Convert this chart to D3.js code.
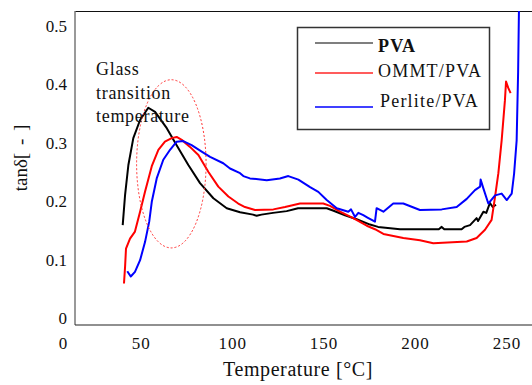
<!DOCTYPE html>
<html>
<head>
<meta charset="utf-8">
<script src="https://cdn.jsdelivr.net/npm/d3@7"></script>
<style>
  html, body { margin: 0; padding: 0; background: #fff; }
  svg text { font-family: "Liberation Serif", "DejaVu Serif", "Times New Roman", Times, serif; }
</style>
</head>
<body>
<svg id="chart" width="532" height="385"></svg>
<script>
// Loss tangent vs temperature for neat PVA and two filled composites
const pvaT = [40.1, 41.4, 43.2, 45.9, 49.6, 54.1, 57.8, 64.2, 69.6, 76.0, 82.4, 89.7, 97.0, 104.3, 111.4, 113.4, 116.0, 122.3, 129.8, 136.0, 151.7, 155.1, 161.7, 168.1, 175.4, 179.8, 191.8, 213.0, 214.6, 216.0, 225.5, 227.0, 230.1, 233.7, 234.5, 237.4, 239.0, 241.0, 242.5, 244.3];
const pvaV = [0.159, 0.211, 0.262, 0.308, 0.339, 0.360, 0.353, 0.325, 0.296, 0.262, 0.231, 0.205, 0.188, 0.181, 0.177, 0.175, 0.177, 0.180, 0.183, 0.188, 0.188, 0.184, 0.176, 0.169, 0.160, 0.156, 0.152, 0.152, 0.156, 0.152, 0.152, 0.156, 0.159, 0.171, 0.166, 0.182, 0.180, 0.197, 0.190, 0.194];

const ommtT = [40.8, 41.4, 41.9, 44.1, 46.8, 49.6, 52.3, 56.0, 59.6, 63.2, 66.9, 69.6, 72.4, 76.9, 81.5, 87.0, 92.4, 97.9, 103.3, 107.0, 112.5, 122.5, 128.9, 137.1, 149.8, 153.5, 159.0, 166.2, 173.6, 178.1, 182.7, 193.6, 202.7, 210.0, 228.3, 233.7, 238.3, 241.9, 243.8, 245.6, 247.4, 249.2, 249.8, 251.0, 252.3];
const ommtV = [0.059, 0.088, 0.119, 0.136, 0.148, 0.182, 0.216, 0.260, 0.288, 0.302, 0.308, 0.310, 0.305, 0.293, 0.279, 0.250, 0.225, 0.208, 0.196, 0.190, 0.185, 0.186, 0.190, 0.196, 0.196, 0.192, 0.182, 0.171, 0.158, 0.152, 0.144, 0.137, 0.133, 0.128, 0.131, 0.137, 0.151, 0.168, 0.208, 0.248, 0.304, 0.373, 0.405, 0.394, 0.385];

const perliteT = [42.6, 44.5, 46.8, 49.6, 52.3, 54.6, 56.0, 58.7, 62.3, 66.0, 69.6, 73.2, 77.8, 83.3, 87.9, 95.1, 98.8, 104.3, 106.1, 109.7, 118.9, 126.1, 130.7, 136.2, 142.6, 147.1, 151.7, 157.2, 163.5, 165.0, 167.2, 169.0, 171.7, 174.0, 178.1, 179.0, 182.7, 188.1, 193.6, 202.7, 214.6, 222.8, 228.3, 232.8, 235.6, 235.9, 237.4, 240.1, 243.8, 247.4, 250.2, 252.9, 254.2, 255.6, 256.4, 257.0];
const perliteV = [0.080, 0.071, 0.079, 0.099, 0.130, 0.165, 0.199, 0.239, 0.271, 0.288, 0.302, 0.303, 0.296, 0.285, 0.276, 0.265, 0.256, 0.248, 0.243, 0.239, 0.236, 0.239, 0.243, 0.237, 0.224, 0.216, 0.202, 0.188, 0.182, 0.186, 0.173, 0.180, 0.176, 0.172, 0.165, 0.188, 0.182, 0.196, 0.196, 0.185, 0.186, 0.190, 0.204, 0.219, 0.225, 0.237, 0.222, 0.196, 0.210, 0.213, 0.202, 0.213, 0.247, 0.304, 0.420, 0.560];

const seriesNames = ["PVA", "OMMT/PVA", "Perlite/PVA"];
const seriesColors = ["#000000", "#ff0000", "#0000ff"];
const xTicks = [50, 100, 150, 200, 250];
const yTicks = [0, 0.1, 0.2, 0.3, 0.4, 0.5];
const noteLines = ["Glass", "transition", "temperature"];
// glass-transition region outline: centre (°C, tanδ) and half-widths
const tgCenter = [66.7, 0.264];
const tgRadius = [19, 0.144];

const SERIF = '"Liberation Serif", "DejaVu Serif", "Times New Roman", Times, serif';
const svg = d3.select("#chart");
const plot = { left: 75, right: 532, top: 11, bottom: 325 };

const x = d3.scaleLinear().domain([14, 264]).range([plot.left, plot.right]);
const y = d3.scaleLinear().domain([0, 0.5]).range([318, 26]);

svg.append("defs").append("clipPath").attr("id", "plotClip")
  .append("rect")
  .attr("x", plot.left).attr("y", plot.top)
  .attr("width", plot.right - plot.left).attr("height", plot.bottom - plot.top);

// frame: left and bottom axes, top border
svg.append("line").attr("x1", plot.left).attr("x2", plot.right)
  .attr("y1", plot.top + 0.5).attr("y2", plot.top + 0.5)
  .attr("stroke", "#111").attr("stroke-width", 1);
svg.append("line").attr("x1", plot.left).attr("x2", plot.left)
  .attr("y1", plot.top).attr("y2", plot.bottom)
  .attr("stroke", "#777").attr("stroke-width", 1.5);
svg.append("line").attr("x1", plot.left).attr("x2", plot.right)
  .attr("y1", plot.bottom).attr("y2", plot.bottom)
  .attr("stroke", "#222").attr("stroke-width", 1.2);

// axes (labels only)
const yAxis = svg.append("g").attr("transform", `translate(${plot.left},0)`)
  .call(d3.axisLeft(y).tickValues(yTicks).tickSize(0).tickPadding(8)
    .tickFormat(d => d === 0 ? "0" : d3.format(".1f")(d)));
yAxis.attr("font-family", SERIF).attr("font-size", 17);
yAxis.select(".domain").remove();
yAxis.selectAll("text").attr("fill", "#111");

const xAxis = svg.append("g").attr("transform", `translate(0,${plot.bottom})`)
  .call(d3.axisBottom(x).tickValues(xTicks).tickSize(0).tickPadding(12));
xAxis.attr("font-family", SERIF).attr("font-size", 17);
xAxis.select(".domain").remove();
xAxis.selectAll("text").attr("fill", "#111").style("letter-spacing", "1px");

// origin label at the corner
svg.append("text").attr("x", plot.left - 12).attr("y", 349)
  .attr("text-anchor", "middle").attr("font-size", 17).attr("fill", "#111")
  .text("0");

// axis titles
svg.append("text").attr("x", 298).attr("y", 376)
  .attr("text-anchor", "middle").attr("font-size", 20).attr("fill", "#111")
  .style("letter-spacing", "0.6px")
  .text("Temperature [°C]");
svg.append("text")
  .attr("transform", "translate(27,158) rotate(-90)")
  .attr("text-anchor", "middle").attr("font-size", 19).attr("fill", "#111")
  .style("word-spacing", "3px")
  .text("tanδ[ - ]");

// curves
const line = d3.line().x(d => x(d[0])).y(d => y(d[1]));
const series = [
  d3.zip(pvaT, pvaV),
  d3.zip(ommtT, ommtV),
  d3.zip(perliteT, perliteV)
];
const curves = svg.append("g").attr("clip-path", "url(#plotClip)");
curves.selectAll("path").data(series).join("path")
  .attr("d", line)
  .attr("fill", "none")
  .attr("stroke", (d, i) => seriesColors[i])
  .attr("stroke-width", 2)
  .attr("stroke-linejoin", "round");

// glass-transition annotation
svg.append("ellipse")
  .attr("cx", x(tgCenter[0])).attr("cy", y(tgCenter[1]))
  .attr("rx", x(tgCenter[0] + tgRadius[0]) - x(tgCenter[0]))
  .attr("ry", y(0) - y(tgRadius[1]))
  .attr("fill", "none").attr("stroke", "#ff3030")
  .attr("stroke-width", 1).attr("stroke-dasharray", "2,2");
svg.append("g").selectAll("text").data(noteLines).join("text")
  .attr("x", 96).attr("y", (d, i) => 75 + i * 23.5)
  .attr("font-size", 18).attr("fill", "#111")
  .style("letter-spacing", "0.7px")
  .text(d => d);

// legend
const legend = svg.append("g");
legend.append("rect").attr("x", 297.5).attr("y", 27.5).attr("width", 192).attr("height", 102)
  .attr("fill", "#fff").attr("stroke", "#333").attr("stroke-width", 1.5);
const legendRows = [43, 73, 107];
const legendWidths = [1.2, 2.2, 1.6];
const legendStroke = ["#000000", "#ff5c5c", "#0000ff"];
legend.selectAll("line.key").data(seriesNames).join("line")
  .attr("class", "key")
  .attr("x1", 315).attr("x2", 373)
  .attr("y1", (d, i) => legendRows[i]).attr("y2", (d, i) => legendRows[i])
  .attr("stroke", (d, i) => legendStroke[i])
  .attr("stroke-width", (d, i) => legendWidths[i]);
legend.selectAll("text").data(seriesNames).join("text")
  .attr("x", (d, i) => i === 2 ? 380 : 378)
  .attr("y", (d, i) => [52, 77, 107][i])
  .attr("font-size", 18).attr("fill", "#111")
  .attr("font-weight", (d, i) => i === 0 ? "bold" : "normal")
  .style("letter-spacing", "1.2px")
  .text(d => d);
</script>
</body>
</html>
